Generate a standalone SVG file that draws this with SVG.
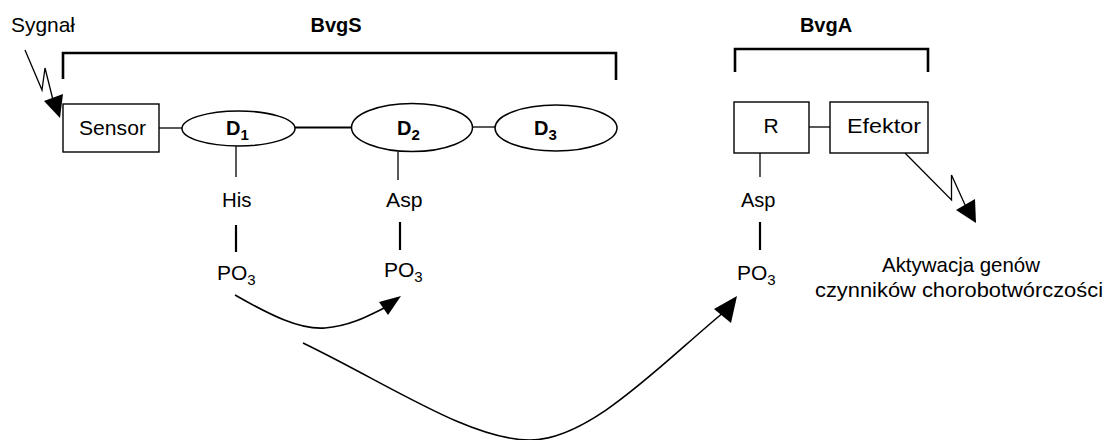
<svg xmlns="http://www.w3.org/2000/svg" width="1106" height="440" viewBox="0 0 1106 440">
  <style>
    text { font-family: "Liberation Sans", Arial, sans-serif; font-size: 21px; fill: #000; }
    .b { font-weight: bold; font-size: 20px; }
    .sub { font-size: 15px; }
    .box { fill: #fff; stroke: #000; stroke-width: 1.4; }
    .dom { fill: #fff; stroke: #000; stroke-width: 1.5; }
    .thin { fill: none; stroke: #000; stroke-width: 1.3; }
    .mid { fill: none; stroke: #000; stroke-width: 2.2; }
    .brk { fill: none; stroke: #000; stroke-width: 2.6; }
    .curve { fill: none; stroke: #000; stroke-width: 1.6; }
    .head { fill: #000; stroke: none; }
  </style>

  <!-- protein brackets and titles -->
  <g id="bvgs-label">
    <text class="b" x="336" y="32" text-anchor="middle">BvgS</text>
    <path class="brk" d="M63,79 V53 H616 V80"/>
  </g>
  <g id="bvga-label">
    <text class="b" x="826" y="32" text-anchor="middle">BvgA</text>
    <path class="brk" d="M735,72 V49 H928 V72"/>
  </g>

  <g id="signal">
    <text x="11" y="32" textLength="64" lengthAdjust="spacingAndGlyphs">Sygnał</text>
  </g>

  <!-- connectors -->
  <g id="connectors">
    <!-- domain chain -->
    <line class="thin" x1="159" y1="128" x2="182" y2="128"/>
    <line class="mid" x1="295" y1="127.5" x2="352" y2="127.5"/>
    <line class="thin" x1="473" y1="127" x2="495" y2="127"/>
    <line class="thin" x1="809" y1="127" x2="830" y2="127"/>
    <!-- residue stems -->
    <line class="thin" x1="236" y1="146" x2="236" y2="177"/>
    <line class="mid" x1="236" y1="225" x2="236" y2="252"/>
    <line class="thin" x1="398" y1="152" x2="398" y2="180"/>
    <line class="mid" x1="400" y1="222" x2="400" y2="250"/>
    <line class="thin" x1="760" y1="153" x2="760" y2="177"/>
    <line class="mid" x1="760" y1="222" x2="760" y2="250"/>

    <!-- incoming signal zigzag -->
    <polyline class="thin" points="25,50 42,90 45,68 54,104"/>
    <polygon class="head" points="60,118 44,101 63,94"/>

    <!-- effector output zigzag -->
    <polyline class="thin" points="905,153 951.5,200 951.5,175 966,207"/>
    <polygon class="head" points="976,223 956,210 975,199"/>

    <!-- phosphate transfer D1 -> D2 -->
    <path class="curve" d="M235,295 C270,315 300,330 325,328 C350,326 368,316 386,307"/>
    <polygon class="head" points="401,296 379,302 388,315"/>

    <!-- phosphate transfer D2 -> R -->
    <path class="curve" d="M303,343 C390,385 470,440 530,440 C590,440 660,365 724,312"/>
    <polygon class="head" points="737,296 714,309 731,323"/>
  </g>

  <!-- BvgS nodes -->
  <g id="sensor">
    <rect class="box" x="63" y="104" width="96" height="48"/>
    <text x="79" y="135" textLength="67" lengthAdjust="spacingAndGlyphs">Sensor</text>
  </g>
  <g id="d1">
    <ellipse class="dom" cx="238.5" cy="128.5" rx="56.5" ry="17.5"/>
    <text class="b" x="226" y="135">D<tspan class="sub" dy="5">1</tspan></text>
  </g>
  <g id="d2">
    <ellipse class="dom" cx="412" cy="127.5" rx="60.5" ry="24"/>
    <text class="b" x="397" y="135">D<tspan class="sub" dy="5">2</tspan></text>
  </g>
  <g id="d3">
    <ellipse class="dom" cx="556" cy="128" rx="61" ry="23"/>
    <text class="b" x="534" y="135">D<tspan class="sub" dy="5">3</tspan></text>
  </g>

  <!-- residues -->
  <g id="his">
    <text x="222" y="207" textLength="29.5" lengthAdjust="spacingAndGlyphs">His</text>
  </g>
  <g id="po3-his">
    <text x="217" y="280">PO<tspan class="sub" dy="5">3</tspan></text>
  </g>
  <g id="asp-d2">
    <text x="386" y="207" textLength="36.5" lengthAdjust="spacingAndGlyphs">Asp</text>
  </g>
  <g id="po3-asp-d2">
    <text x="384" y="277">PO<tspan class="sub" dy="5">3</tspan></text>
  </g>

  <!-- BvgA nodes -->
  <g id="r">
    <rect class="box" x="734" y="102" width="75" height="51"/>
    <text x="771" y="133" text-anchor="middle">R</text>
  </g>
  <g id="efektor">
    <rect class="box" x="830" y="102" width="98" height="51"/>
    <text x="847" y="133" textLength="74" lengthAdjust="spacingAndGlyphs">Efektor</text>
  </g>
  <g id="asp-r">
    <text x="741" y="207" textLength="34.5" lengthAdjust="spacingAndGlyphs">Asp</text>
  </g>
  <g id="po3-asp-r">
    <text x="737" y="280">PO<tspan class="sub" dy="5">3</tspan></text>
  </g>

  <g id="outcome">
    <text x="882" y="272" textLength="158" lengthAdjust="spacingAndGlyphs">Aktywacja genów</text>
    <text x="815" y="297" textLength="288" lengthAdjust="spacingAndGlyphs">czynników chorobotwórczości</text>
  </g>
</svg>
